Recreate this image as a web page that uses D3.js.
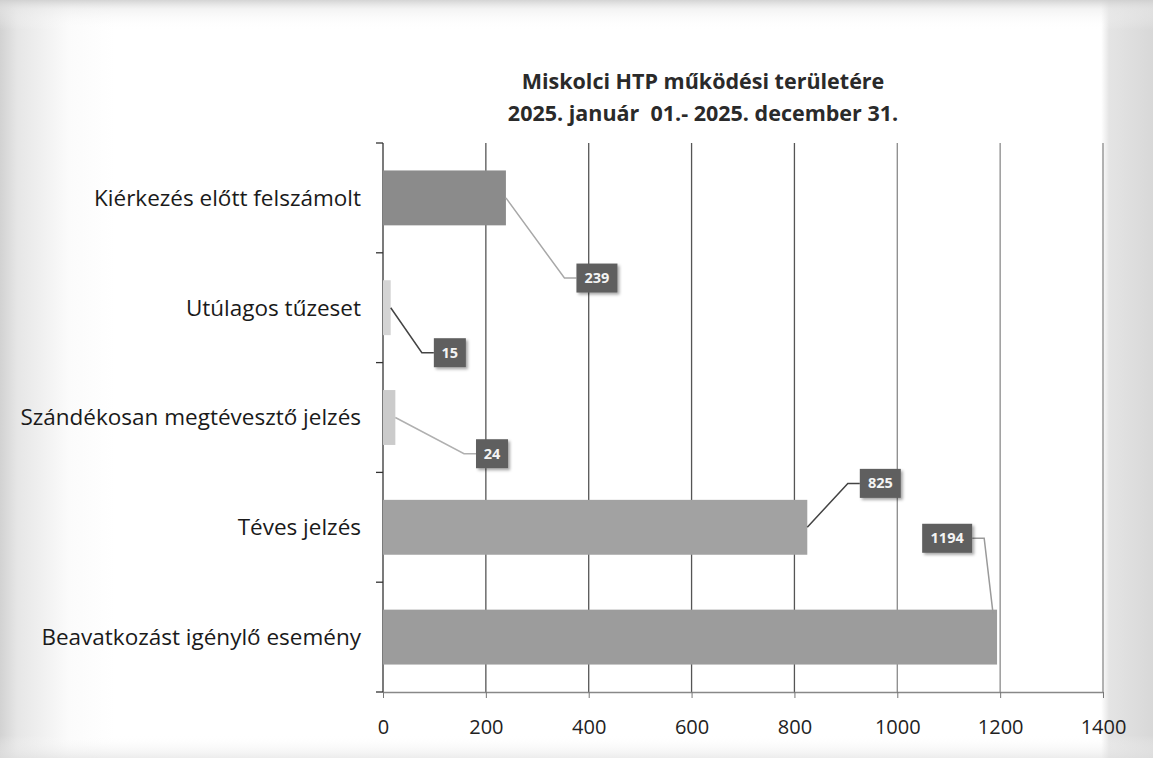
<!DOCTYPE html>
<html>
<head>
<meta charset="utf-8">
<script src="https://cdn.jsdelivr.net/npm/d3@7"></script>
<style>
  html, body { margin: 0; padding: 0; }
  body { width: 1153px; height: 758px; overflow: hidden; }
  svg { display: block; }
</style>
</head>
<body>
<svg id="chart" width="1153" height="758"></svg>
<script>
// ---- data ----
const titleLines = ["Miskolci HTP működési területére", "2025. január  01.- 2025. december 31."];
const categories = [
  "Kiérkezés előtt felszámolt",
  "Utúlagos tűzeset",
  "Szándékosan megtévesztő jelzés",
  "Téves jelzés",
  "Beavatkozást igénylő esemény"
];
const values = [239, 15, 24, 825, 1194];
const xTicks = [0, 200, 400, 600, 800, 1000, 1200, 1400];

// ---- styling (not data) ----
const barColors = ["#8b8b8b", "#d4d4d4", "#cbcbcb", "#a2a2a2", "#9c9c9c"];
const leaderColors = ["#a8a8a8", "#444", "#b0b0b0", "#444", "#9a9a9a"];
// label box centres, as offsets (value units / band steps) relative to the bar end
const labelPos = [
  {dx: 177, dy: 0.73},
  {dx: 115, dy: 0.41},
  {dx: 188, dy: 0.33},
  {dx: 142, dy: -0.40},
  {dx: -97, dy: -0.90}
];

const svg = d3.select("#chart");
const W = 1153, H = 758;
const margin = {left: 383, right: 50, top: 143, bottom: 66};

// background resembling the scanned page
const defs = svg.append("defs");
const lg = defs.append("linearGradient").attr("id", "bgH").attr("x1", 0).attr("x2", 1).attr("y1", 0).attr("y2", 0);
[[0, "#d2d2d2"], [0.015, "#e6e6e6"], [0.06, "#fbfbfb"], [0.1, "#ffffff"], [0.955, "#ffffff"], [0.962, "#e4e4e4"], [1, "#d8d8d8"]]
  .forEach(([o, c]) => lg.append("stop").attr("offset", o).attr("stop-color", c));
svg.append("rect").attr("width", W).attr("height", H).attr("fill", "url(#bgH)");
const lgv = defs.append("linearGradient").attr("id", "bgV").attr("x1", 0).attr("x2", 0).attr("y1", 0).attr("y2", 1);
[[0, "#cfcfcf", 0.9], [0.012, "#e8e8e8", 0.5], [0.04, "#ffffff", 0], [0.97, "#ffffff", 0], [1, "#e0e0e0", 0.6]]
  .forEach(([o, c, op]) => lgv.append("stop").attr("offset", o).attr("stop-color", c).attr("stop-opacity", op));
svg.append("rect").attr("width", W).attr("height", H).attr("fill", "url(#bgV)");

const shadow = defs.append("filter").attr("id", "shadow").attr("x", "-30%").attr("y", "-30%").attr("width", "170%").attr("height", "170%");
shadow.append("feDropShadow").attr("dx", 2).attr("dy", 2).attr("stdDeviation", 1.6).attr("flood-color", "#000").attr("flood-opacity", 0.35);

const x = d3.scaleLinear().domain([0, 1400]).range([margin.left, W - margin.right]);
const y = d3.scaleBand().domain(categories).range([margin.top, H - margin.bottom]).paddingInner(0.5).paddingOuter(0.25);
const yOuter = d3.scaleBand().domain(categories).range([margin.top, H - margin.bottom]);

const font = "'Open Sans', 'Noto Sans', sans-serif";

// title
svg.append("g").selectAll("text").data(titleLines).join("text")
  .attr("x", 703).attr("y", (d, i) => 89 + i * 32)
  .attr("text-anchor", "middle")
  .attr("font-family", font).attr("font-weight", "bold").attr("font-size", 21.5)
  .attr("fill", "#2a2a2a").style("white-space", "pre").text(d => d);

// vertical gridlines
svg.append("g").selectAll("line").data(xTicks.slice(1)).join("line")
  .attr("x1", d => x(d)).attr("x2", d => x(d))
  .attr("y1", margin.top).attr("y2", H - margin.bottom)
  .attr("stroke", (d) => d <= 800 ? "#555" : "#8a8a8a").attr("stroke-width", 1.3);

// x axis
const xAxis = d3.axisBottom(x).tickValues(xTicks).tickFormat(d3.format("d")).tickSize(6).tickPadding(22).tickSizeOuter(0);
const gx = svg.append("g").attr("transform", `translate(0,${H - margin.bottom})`).call(xAxis);
gx.select(".domain").attr("stroke", "#888").attr("stroke-width", 1.3);
gx.selectAll(".tick line").attr("stroke", "#777");
gx.selectAll(".tick text").attr("font-family", font).attr("font-size", 20).attr("fill", "#222");

// y axis line with ticks at band boundaries
const gy = svg.append("g");
gy.append("line").attr("x1", margin.left).attr("x2", margin.left)
  .attr("y1", margin.top).attr("y2", H - margin.bottom).attr("stroke", "#333").attr("stroke-width", 1.3);
const boundaries = categories.map(c => yOuter(c)).concat([H - margin.bottom]);
gy.selectAll("line.tk").data(boundaries).join("line").attr("class", "tk")
  .attr("x1", margin.left - 7).attr("x2", margin.left)
  .attr("y1", d => d).attr("y2", d => d).attr("stroke", "#333").attr("stroke-width", 1.3);

// category labels
svg.append("g").selectAll("text").data(categories).join("text")
  .attr("x", margin.left - 22)
  .attr("y", d => y(d) + y.bandwidth() / 2)
  .attr("dy", "0.35em")
  .attr("text-anchor", "end")
  .attr("font-family", font).attr("font-size", 22.5).attr("fill", "#1a1a1a")
  .text(d => d);

// bars
svg.append("g").selectAll("rect").data(categories).join("rect")
  .attr("x", x(0)).attr("y", d => y(d))
  .attr("width", (d, i) => x(values[i]) - x(0))
  .attr("height", y.bandwidth())
  .attr("fill", (d, i) => barColors[i]);

// data labels with leader lines
const bw = y.bandwidth(), step = yOuter.bandwidth();
const labels = svg.append("g");
categories.forEach((c, i) => {
  const v = values[i];
  const bx = x(v), by = y(c) + bw / 2;
  const lx = x(v + labelPos[i].dx), ly = by + labelPos[i].dy * step;
  const txt = String(v);
  const boxW = txt.length * 9 + 14, boxH = 29;
  const leftSide = labelPos[i].dx < 0;
  const edgeX = leftSide ? lx + boxW / 2 : lx - boxW / 2;
  const elbowX = leftSide ? edgeX + 12 : edgeX - 12;
  const startX = leftSide ? bx - 4 : bx;
  const startY = leftSide ? y(c) + 4 : by;
  labels.append("polyline")
    .attr("points", `${startX},${startY} ${elbowX},${ly} ${edgeX},${ly}`)
    .attr("fill", "none").attr("stroke", leaderColors[i]).attr("stroke-width", 1.5);
  labels.append("rect")
    .attr("x", lx - boxW / 2).attr("y", ly - boxH / 2)
    .attr("width", boxW).attr("height", boxH)
    .attr("fill", "#5e5e5e").attr("filter", "url(#shadow)");
  labels.append("text")
    .attr("x", lx).attr("y", ly).attr("dy", "0.35em")
    .attr("text-anchor", "middle")
    .attr("font-family", font).attr("font-weight", "bold").attr("font-size", 14.5)
    .attr("fill", "#f4f4f4").text(txt);
});
</script>
</body>
</html>
